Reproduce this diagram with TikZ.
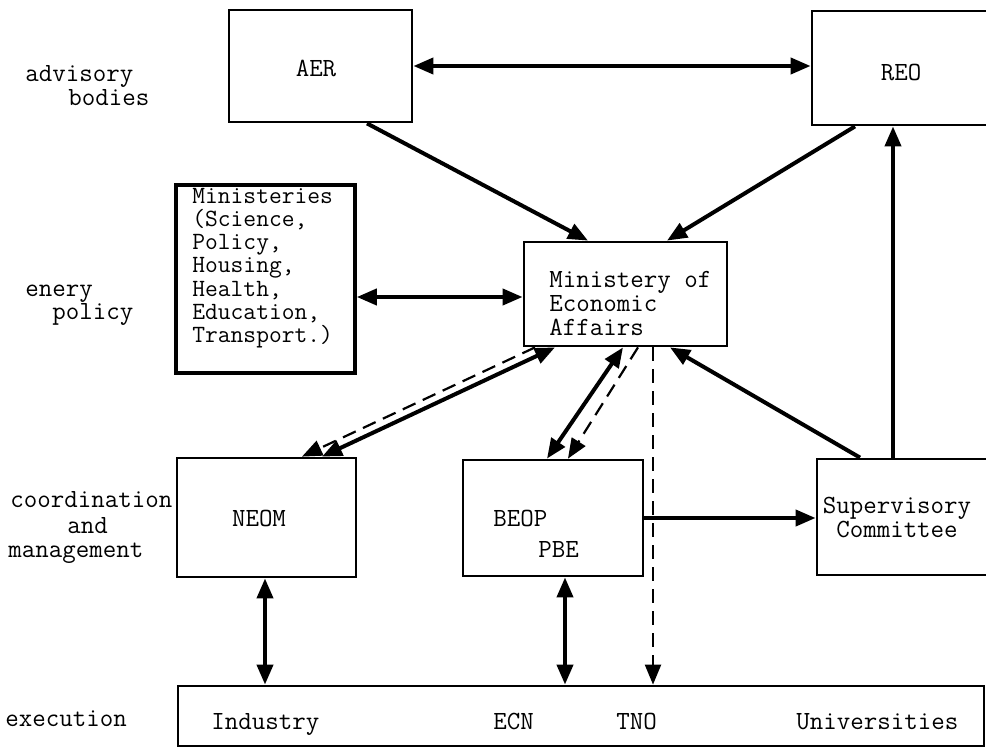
\documentclass[tikz,border=0pt]{standalone}
\usepackage{fontspec}
\usetikzlibrary{arrows.meta,fit}
\begin{document}
\begin{tikzpicture}[x=0.5pt,y=-0.5pt,
  box/.style={draw,line width=1.4pt,inner sep=0pt,rectangle},
  txt/.style={font=\ttfamily\fontsize{13.1}{12}\selectfont,inner sep=0pt},
  conn/.style={line width=2pt},
  dconn/.style={line width=1.1pt,dash pattern=on 7pt off 4pt},
  onehead/.style={-{Triangle[length=10pt,width=8pt]}},
  twohead/.style={{Triangle[length=10pt,width=8pt]}-{Triangle[length=10pt,width=8pt]}},
]
\clip (0,0) rectangle (986,750);

% boxes
\node[box,fit={(229,10) (412,122)}] (aer) {};
\node[box,fit={(812,11) (1010,125)}] (reo) {};
\node[box,line width=1.8pt,fit={(176,185) (355,373)}] (mins) {};
\node[box,fit={(524,242) (727,346)}] (mea) {};
\node[box,fit={(177,458) (356,577)}] (neom) {};
\node[box,fit={(463,460) (643,576)}] (beop) {};
\node[box,fit={(817,459) (1010,575)}] (sup) {};
\node[box,fit={(178,686) (984,746)}] (exec) {};

% box texts
\node[txt] (taer) at (316,68) {AER};
\node[txt] (treo) at (901,72) {REO};
\node[txt,anchor=west,align=left,font=\ttfamily\fontsize{12.4}{11.6}\selectfont] (tmins) at (192,268) {Ministeries\\(Science,\\Policy,\\Housing,\\Health,\\Education,\\Transport.)};
\node[txt,anchor=west,align=left] (tmea) at (549,303) {Ministery of\\Economic\\Affairs};
\node[txt] (tneom) at (259,518) {NEOM};
\node[txt,anchor=west] (tbeop) at (493,518) {BEOP};
\node[txt,anchor=west] (tpbe) at (538,549) {PBE};
\node[txt,align=center] (tsup) at (897,517) {Supervisory\\Committee};
\node[txt,anchor=base west] (tind) at (211,729) {Industry};
\node[txt,anchor=base west] (tecn) at (493,729) {ECN};
\node[txt,anchor=base west] (ttno) at (616,729) {TNO};
\node[txt,anchor=base west] (tuni) at (796,729) {Universities};

% side labels
\node[txt,anchor=mid west] (l1) at (25,77) {advisory};
\node[txt,anchor=mid west] (l2) at (68,101) {bodies};
\node[txt,anchor=mid west] (l3) at (25,292) {enery};
\node[txt,anchor=mid west] (l4) at (52,315) {policy};
\node[txt,anchor=mid west] (l5) at (10,503) {coordination};
\node[txt,anchor=mid west] (l6) at (67,529) {and};
\node[txt,anchor=mid west] (l7) at (8,553) {management};
\node[txt,anchor=mid west] (l8) at (5,722) {execution};

% connectors
\draw[conn,twohead] (aer.east |- 0,66) -- (reo.west |- 0,66);
\draw[conn,onehead] (aer.south -| 367,0) -- (mea.north -| 588,0);
\draw[conn,onehead] (reo.south -| 855,0) -- (mea.north -| 667,0);
\draw[conn,twohead] (mins.east |- 0,297) -- (mea.west |- 0,297);
\draw[conn,twohead] (mea.south -| 555,0) -- (neom.north -| 322,0);
\draw[dconn,onehead] (mea.south -| 535,0) -- (neom.north -| 302,0);
\draw[conn,twohead] (mea.south -| 623,0) -- (beop.north -| 547,0);
\draw[dconn,onehead] (mea.south -| 638,0) -- (beop.north -| 568,0);
\draw[dconn,onehead] (mea.south -| 653,0) -- (exec.north -| 653,0);
\draw[conn,onehead] (sup.north -| 860,0) -- (mea.south -| 670,0);
\draw[conn,onehead] (sup.north -| 893,0) -- (reo.south -| 893,0);
\draw[conn,onehead] (beop.east |- 0,518) -- (sup.west |- 0,518);
\draw[conn,twohead] (neom.south -| 265,0) -- (exec.north -| 265,0);
\draw[conn,twohead] (beop.south -| 565,0) -- (exec.north -| 565,0);
\end{tikzpicture}
\end{document}
